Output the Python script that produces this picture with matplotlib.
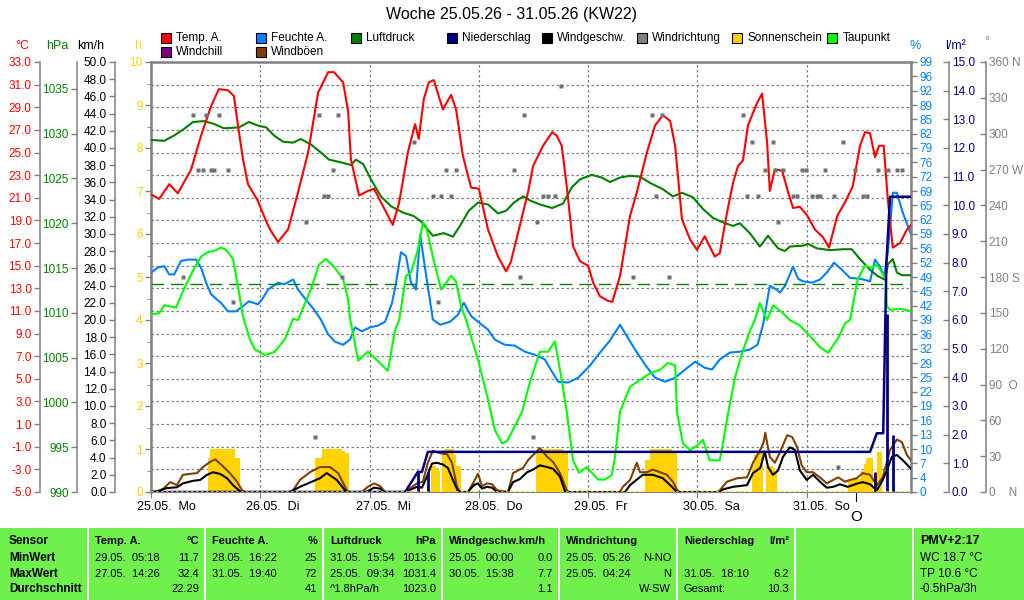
import numpy as np
import matplotlib
matplotlib.use('Agg')
import matplotlib.pyplot as plt
from matplotlib.patches import Rectangle
from matplotlib.ticker import MultipleLocator

plt.rcParams['font.family'] = ['Liberation Sans', 'DejaVu Sans']

# ---------------- data (hours since 25.05. 00:00) ----------------
day_labels = ['25.05.  Mo', '26.05.  Di', '27.05.  Mi', '28.05.  Do', '29.05.  Fr', '30.05.  Sa', '31.05.  So']
day_hours = [0, 24, 48, 72, 96, 120, 144]
x_end = 166.9
moon_hour = 154.8

temp_t = [0.0, 1.8, 4.0, 5.9, 8.8, 11.0, 13.2, 14.9, 16.9, 18.2, 19.1, 20.2, 21.3, 23.5, 25.3, 26.3, 27.9,
          30.1, 32.3, 34.5, 36.7, 38.9, 40.2, 42.2, 43.3, 43.9, 45.7, 47.6, 49.0, 50.5, 53.1, 54.5, 56.4,
          58.0, 58.8, 59.9, 61.0, 62.1, 64.1, 65.9, 67.0, 68.5, 70.3, 72.0, 74.0, 76.2, 78.0, 79.0, 80.6,
          82.8, 83.9, 86.1, 88.1, 89.1, 90.2, 91.3, 92.7, 94.2, 96.0, 97.1, 98.6, 100.3, 101.3, 103.0, 105.2,
          106.7, 108.9, 110.7, 112.4, 114.0, 115.1, 116.6, 118.4, 119.9, 121.6, 123.8, 124.9, 126.5, 127.8,
          128.9, 130.0, 131.1, 133.1, 134.2, 135.3, 135.9, 137.0, 138.6, 139.9, 141.0, 142.5, 144.0, 145.8,
          147.6, 148.9, 150.7, 152.4, 154.1, 155.7, 156.8, 157.9, 159.0, 159.9, 160.9, 161.8, 162.9, 164.5,
          166.0, 166.9]
temp_v = [21.3, 20.9, 22.2, 21.4, 23.5, 26.5, 29.1, 30.6, 30.5, 30.0, 27.4, 24.4, 22.2, 20.7, 18.9, 18.1, 17.1,
          18.2, 21.5, 25.0, 30.3, 32.1, 32.1, 31.2, 28.6, 24.4, 21.2, 21.6, 21.8, 20.6, 18.6, 20.6, 25.0,
          27.5, 26.2, 29.7, 31.2, 31.4, 28.8, 30.1, 28.8, 24.7, 21.9, 21.8, 18.2, 15.8, 14.5, 15.3, 17.9,
          21.5, 23.8, 25.6, 26.8, 26.5, 25.6, 22.0, 16.7, 15.4, 15.0, 13.5, 12.3, 11.9, 11.8, 14.1, 19.4,
          21.5, 25.0, 27.4, 28.3, 27.8, 25.6, 19.1, 17.3, 16.4, 17.6, 15.8, 16.1, 19.7, 22.3,
          23.8, 24.3, 27.4, 29.4, 30.2, 25.9, 21.6, 23.5, 23.4, 21.5, 20.1, 20.2, 19.5, 18.2,
          17.5, 16.6, 19.4, 20.6, 22.0, 25.6, 26.8, 26.7, 24.6, 25.6, 25.6, 20.9, 16.6, 17.0,
          18.2, 18.6]

dew_t = [0.0, 1.8, 2.9, 5.5, 7.2, 9.4, 11.0, 12.5, 13.8, 15.4, 16.5, 18.0, 19.1, 20.2, 21.7, 22.8, 25.0, 27.2,
         29.4, 31.2, 32.3, 35.1, 36.9, 38.4, 40.0, 42.2, 43.3, 43.7, 45.5, 47.6, 49.8, 52.0, 53.6, 54.5, 56.0,
         57.1, 58.6, 59.7, 60.4, 61.9, 63.7, 64.3, 65.9, 67.0, 68.1, 69.2, 71.8, 74.0, 75.5, 77.1, 78.2, 80.4,
         81.5, 83.2, 85.4, 87.2, 88.7, 90.2, 91.3, 92.7, 94.0, 95.7, 96.8, 98.2, 99.7, 101.2, 101.9, 103.0,
         105.2, 107.4, 109.6, 111.8, 113.5, 115.1, 115.5, 116.8, 118.4, 119.9, 121.2, 122.7, 124.9, 125.6,
         126.8, 128.3, 129.9, 131.5, 132.6, 133.7, 135.3, 136.6, 138.8, 140.3, 142.5, 144.7, 146.9, 148.7,
         150.9, 152.4, 153.5, 155.2, 156.8, 158.3, 159.4, 160.5, 161.4, 161.6, 162.3, 164.5, 166.9]
dew_v = [10.7, 10.8, 11.5, 11.3, 12.9, 14.7, 15.8, 16.2, 16.3, 16.6, 16.4, 15.6, 13.2, 10.5, 8.5, 7.6, 7.1, 7.4,
         8.5, 10.3, 10.2, 12.9, 15.1, 15.6, 15.0, 13.8, 12.0, 10.4, 6.6, 7.4, 6.6, 5.7, 9.3, 10.2, 14.1,
         14.4, 16.4, 18.8, 18.5, 15.8, 12.9, 13.2, 14.1, 13.6, 11.4, 10.2, 6.7, 3.2, 0.5, -0.7, -0.5, 1.2,
         2.1, 4.7, 7.4, 7.4, 8.3, 4.9, 2.1, -2.2, -3.3, -2.8, -3.3, -3.9, -3.9, -3.5, -1.9, 2.1,
         4.3, 4.9, 5.5, 5.8, 6.4, 6.2, 2.1, -0.7, -1.3, -0.9, -0.4, -2.2, -2.2, -0.7,
         2.1, 5.2, 7.4, 9.2, 10.2, 11.7, 10.2, 11.5, 10.8, 10.2, 9.7, 8.8, 7.8, 7.3,
         8.6, 9.9, 10.2, 13.8, 15.0, 14.8, 15.1, 14.4, 13.8, 11.4, 11.1, 11.2, 11.0]

hum_t = [0.0, 1.5, 2.9, 4.0, 5.1, 6.6, 8.1, 9.9, 11.0, 12.1, 13.2, 15.4, 16.9, 18.7, 20.2, 21.5, 23.5, 24.6,
         25.7, 27.9, 29.2, 31.2, 32.3, 34.0, 35.8, 37.3, 38.9, 40.4, 42.2, 43.7, 44.8, 46.3, 48.1, 49.8, 51.4,
         52.9, 53.8, 54.9, 56.0, 57.1, 58.2, 59.1, 59.9, 61.0, 61.9, 63.5, 65.7, 67.4, 68.7, 70.3, 71.8, 74.0,
         75.5, 77.7, 79.9, 82.1, 84.3, 86.5, 87.6, 89.4, 91.6, 93.8, 96.4, 98.6, 100.8, 103.0, 104.7, 106.3,
         108.5, 110.7, 112.9, 115.1, 117.3, 119.5, 121.6, 123.2, 124.9, 127.1, 129.3, 131.5, 133.2, 134.4,
         135.9, 137.4, 138.1, 139.2, 141.0, 142.1, 143.2, 145.2, 146.9, 148.4, 150.0, 151.7, 153.5, 155.7,
         157.9, 159.0, 160.1, 161.0, 161.8, 162.5, 162.9, 163.8, 165.1, 166.9]
hum_v = [50.5, 51.7, 52.0, 50.1, 50.1, 53.2, 53.5, 53.5, 51.6, 48.2, 45.5, 43.5, 41.6, 41.6, 42.8, 43.9, 43.2, 44.7,
         46.6, 48.2, 47.8, 48.9, 46.6, 44.3, 42.0, 39.7, 36.3, 34.6, 33.9, 35.1, 37.9, 37.0, 37.9, 38.3, 39.2,
         43.4, 48.0, 55.2, 54.3, 48.2, 46.6, 59.3, 53.5, 45.9, 39.7, 38.5, 39.2, 40.8, 43.6, 40.5, 39.2, 37.4,
         35.1, 33.9, 33.7, 32.3, 31.6, 30.5, 28.5, 25.4, 25.2, 26.3, 29.1, 32.1, 34.9, 38.5, 35.5, 32.8,
         29.3, 26.3, 25.4, 26.3, 28.2, 30.0, 28.6, 28.2, 30.5, 32.1, 32.3, 32.8, 33.9, 38.5,
         47.5, 46.6, 45.9, 47.4, 51.9, 49.1, 48.5, 48.2, 48.9, 50.5, 52.8, 51.2, 49.3, 49.1,
         48.5, 53.5, 51.9, 49.7, 55.1, 63.5, 68.9, 68.9, 64.3, 59.3]

pres_t = [0.0, 2.9, 5.1, 7.2, 9.2, 11.6, 13.8, 16.0, 19.3, 21.5, 23.5, 25.3, 27.0, 29.0, 31.2, 32.9, 35.1, 37.3,
          39.1, 41.7, 43.9, 45.0, 46.6, 48.3, 50.5, 52.7, 55.3, 57.7, 59.3, 61.9, 64.3, 66.3, 67.6, 69.8, 71.8,
          74.0, 76.2, 78.0, 79.7, 81.7, 83.4, 85.4, 88.1, 90.5, 92.4, 94.2, 96.8, 99.0, 100.8, 103.0, 105.2,
          107.4, 109.6, 112.4, 114.6, 116.6, 119.0, 121.2, 123.4, 125.6, 127.8, 129.3, 131.5, 133.7, 135.5,
          137.7, 139.2, 140.3, 143.2, 144.3, 146.2, 149.1, 152.0, 153.9, 155.7, 157.9, 159.6, 161.2, 161.8,
          162.9, 163.8, 164.9, 166.9]
pres_v = [1029.3, 1029.2, 1029.8, 1030.5, 1031.3, 1031.4, 1031.1, 1030.6, 1030.7, 1031.3, 1030.9, 1030.7, 1029.8,
          1029.1, 1029.0, 1029.4, 1028.8, 1027.9, 1027.1, 1026.8, 1026.5, 1027.1, 1026.6, 1024.9, 1023.0, 1021.9,
          1021.2, 1020.8, 1020.2, 1018.6, 1018.9, 1018.5, 1019.5, 1021.4, 1022.3, 1022.1, 1021.1, 1021.4, 1022.3,
          1023.0, 1022.5, 1022.1, 1021.7, 1022.2, 1024.0, 1024.9, 1025.4, 1025.1, 1024.6, 1025.1, 1025.3, 1025.2,
          1024.5, 1023.8, 1023.0, 1023.4, 1022.9, 1021.6, 1020.6, 1020.1, 1019.7, 1020.0, 1018.9, 1017.4, 1018.6,
          1017.2, 1016.9, 1017.4, 1017.5, 1017.7, 1017.2, 1017.0, 1017.1, 1017.1, 1016.0, 1014.8, 1014.1, 1013.7,
          1015.4, 1016.0, 1014.5, 1014.2, 1014.2]
pres_ref = 1013.25

wind_t = [0.0, 1.5, 2.4, 3.5, 5.7, 7.0, 9.2, 10.8, 12.3, 13.6, 15.2, 16.7, 18.0, 19.5, 20.2, 30.5, 32.7, 34.9,
          37.1, 38.6, 40.8, 42.6, 43.0, 47.2, 49.0, 50.3, 51.2, 55.8, 58.4, 59.5, 60.6, 61.7, 62.8, 64.1, 65.2,
          66.3, 67.4, 67.9, 69.6, 70.9, 71.8, 72.7, 73.8, 74.9, 76.0, 78.4, 79.5, 81.0, 82.6, 83.9, 85.4, 87.0,
          88.3, 89.8, 90.9, 91.3, 104.1, 105.2, 108.0, 110.2, 112.4, 114.4, 115.5, 124.9, 125.6, 127.8, 130.9,
          132.2, 133.8, 134.8, 135.5, 136.6, 137.7, 138.8, 140.3, 141.4, 142.5, 144.0, 145.4, 146.9, 148.4,
          149.8, 151.3, 153.0, 154.1, 155.2, 156.3, 157.9, 159.4, 160.7, 161.6, 162.7, 163.8, 165.1, 166.9]
wind_v = [0.0, 0.0, 0.3, 0.45, 0.55, 1.0, 1.3, 1.4, 2.0, 2.3, 2.1, 1.6, 0.8, 0.1, 0.0, 0.0, 0.6, 1.1,
          1.6, 2.2, 1.4, 0.2, 0.0, 0.0, 0.5, 0.4, 0.0, 0.0, 0.6, 0.5, 1.8, 3.3, 3.4, 3.2, 2.8,
          1.4, 0.1, 0.0, 0.0, 0.8, 1.0, 0.4, 0.6, 0.5, 0.0, 0.0, 1.15, 1.5, 2.3, 2.6, 3.1, 2.9,
          2.7, 1.8, 0.1, 0.0, 0.0, 0.8, 2.0, 2.0, 1.6, 0.6, 0.0, 0.0, 0.3, 0.6, 0.8,
          2.2, 2.8, 4.7, 2.9, 2.0, 2.5, 4.1, 5.2, 4.9, 2.5, 1.4, 2.0, 1.2, 0.5,
          0.6, 0.9, 0.6, 0.8, 1.0, 1.15, 0.9, 0.2, 1.4, 2.5, 4.1, 4.3, 3.7, 2.7]

gust_t = [0.0, 2.0, 2.6, 4.2, 5.7, 7.0, 10.1, 11.4, 13.0, 14.1, 15.6, 17.3, 18.9, 20.0, 20.6, 30.5, 31.2, 32.7,
          34.9, 37.1, 39.3, 41.1, 43.0, 43.5, 46.3, 47.6, 49.0, 50.3, 51.4, 55.8, 58.4, 59.7, 60.8, 61.9, 63.5,
          65.0, 66.1, 67.2, 67.9, 69.6, 70.7, 71.8, 72.7, 73.8, 74.9, 76.0, 78.4, 79.5, 81.7, 82.8, 85.4, 87.0,
          88.3, 89.8, 91.3, 91.8, 103.0, 103.6, 105.2, 106.7, 107.4, 108.9, 110.2, 111.8, 113.3, 114.6, 115.7,
          116.2, 124.5, 124.9, 126.5, 128.7, 130.9, 132.2, 133.8, 134.5, 134.9, 135.3, 135.9, 137.0, 138.1,
          139.7, 140.8, 141.9, 142.9, 144.0, 145.4, 146.9, 148.4, 149.8, 150.9, 152.4, 153.5, 155.0, 156.3,
          157.9, 159.4, 160.7, 162.3, 163.8, 164.9, 166.0, 166.9]
gust_v = [0.0, 0.2, 0.3, 1.15, 0.8, 2.0, 2.2, 2.9, 3.5, 3.8, 3.1, 2.2, 1.2, 0.2, 0.0, 0.0, 0.2, 1.4,
          2.3, 2.9, 2.9, 2.2, 0.2, 0.0, 0.0, 0.6, 1.0, 0.7, 0.0, 0.0, 1.0, 1.2, 3.4, 4.8, 4.5,
          4.4, 3.4, 0.6, 0.0, 0.0, 1.0, 2.1, 0.7, 1.0, 0.9, 0.2, 0.0, 2.2, 2.8, 3.7, 5.1, 4.1,
          3.5, 2.2, 0.2, 0.0, 0.0, 0.6, 1.4, 3.4, 2.3, 2.3, 2.6, 2.3, 2.0, 1.2, 0.1,
          0.0, 0.0, 0.2, 1.2, 1.6, 1.7, 3.4, 4.9, 5.7, 6.9, 5.7, 4.1, 3.4, 4.6,
          6.6, 6.4, 5.2, 3.1, 2.3, 2.3, 1.7, 1.0, 1.4, 1.7, 1.2, 1.4, 1.6, 2.2,
          2.0, 0.8, 1.7, 4.9, 6.1, 5.8, 4.3, 3.7]

dir_t = [7.0, 9.2, 10.3, 11.4, 12.1, 13.2, 13.8, 14.9, 16.9, 18.0, 34.0, 36.0, 36.9, 38.0, 38.9, 40.0, 41.1, 41.9,
         57.7, 61.9, 63.0, 63.7, 64.8, 65.9, 67.0, 79.7, 81.0, 81.9, 83.9, 84.8, 86.1, 87.2, 88.7, 90.0,
         105.8, 110.0, 110.9, 112.2, 113.7, 130.0, 130.9, 132.0, 133.3, 134.8, 136.6, 137.0, 137.7, 138.8,
         141.0, 141.9, 142.9, 143.8, 145.1, 146.2, 146.9, 148.0, 150.0, 150.9, 152.0, 154.6, 156.3, 157.2,
         159.6, 161.8, 163.8, 164.9]
dir_v = [180, 316, 270, 270, 316, 270, 270, 316, 270, 159, 226, 46, 316, 248, 248, 270, 316, 180,
         293, 248, 159, 248, 270, 248, 270, 270, 180, 316, 46, 226, 248, 248, 248, 340,
         180, 316, 248, 316, 180, 316, 248, 293, 248, 270, 293, 270, 226, 270,
         248, 248, 270, 270, 248, 248, 248, 270, 248, 21, 293, 270, 248, 248,
         270, 270, 270, 270]

sun_start = [12.5, 36.0, 61.5, 84.5, 108.5, 132.0, 153.0]
sun_vals = [
    [0.8, 1.0, 1.0, 1.0, 1.0, 1.0, 1.0, 1.0, 1.0, 1.0, 1.0, 1.0, 0.8, 0.8],
    [0.8, 0.8, 0.8, 1.0, 1.0, 1.0, 1.0, 1.0, 1.0, 1.0, 1.0, 1.0, 0.95, 0.9, 0.9],
    [0.6, 0.6, 0.55, 0.5, 0.0, 0.95, 1.0, 1.0, 1.0, 1.0, 0.85, 0.6, 0.6],
    [0.9, 0.9, 1.0, 1.0, 1.0, 1.0, 1.0, 1.0, 1.0, 1.0, 1.0, 1.0, 0.95, 0.95],
    [0.75, 0.75, 1.0, 1.0, 1.0, 1.0, 1.0, 1.0, 1.0, 1.0, 1.0, 1.0, 0.93, 0.93],
    [0.6, 0.85, 0.95, 1.0, 0.9, 0.0, 0.6, 0.6, 0.6, 0.55, 0.5],
    [0.25, 0.3, 0.3, 0.35, 0.3, 0.3, 0.5, 0.65, 0.8, 0.8, 0.8, 0.0, 0.0, 0.93, 0.93],
]
sun_bin = 0.5

rain_bar_t = [58.6, 60.8, 159.0, 161.6, 162.9]
rain_bar_v = [0.7, 0.7, 0.7, 6.2, 2.0]
rain_sum_t = [0.0, 55.8, 58.6, 59.5, 60.8, 157.9, 159.4, 160.8, 161.5, 162.3, 166.9]
rain_sum_v = [0.0, 0.0, 0.7, 0.7, 1.4, 1.4, 2.05, 2.05, 8.0, 10.3, 10.3]

rh_tick_labels = ['0', '4', '7', '10', '13', '16', '19', '22', '25', '29', '32', '36', '39', '42', '45', '49',
                  '52', '56', '59', '62', '65', '69', '72', '76', '79', '82', '85', '89', '92', '96', '99']
dir_ticks = list(range(0, 361, 30))
dir_tick_labels = ['0    N', '30', '60', '90  O', '120', '150', '180 S', '210', '240', '270 W', '300', '330', '360 N']

legend_row1 = [('Temp. A.', '#FF0000'), ('Feuchte A.', '#0080FF'), ('Luftdruck', '#008000'),
               ('Niederschlag', '#000080'), ('Windgeschw.', '#000000'), ('Windrichtung', '#808080'),
               ('Sonnenschein', '#FFD200'), ('Taupunkt', '#00FF00')]
legend_row2 = [('Windchill', '#800080'), ('Windböen', '#804000')]

table_cols = [(0, 87), (89, 204), (206, 322), (324, 441), (443, 558), (560, 676), (678, 794), (796, 912), (914, 1024)]
tbl_sensor = ['Sensor', 'MinWert', 'MaxWert', 'Durchschnitt']
tbl_data = [
    [('Temp. A.', '°C'), ('29.05.  05:18', '11.7'), ('27.05.  14:26', '32.4'), ('', '22.29')],
    [('Feuchte A.', '%'), ('28.05.  16:22', '25'), ('31.05.  19:40', '72'), ('', '41')],
    [('Luftdruck', 'hPa'), ('31.05.  15:54', '1013.6'), ('25.05.  09:34', '1031.4'), ('^1.8hPa/h', '1023.0')],
    [('Windgeschw.km/h', ''), ('25.05.  00:00', '0.0'), ('30.05.  15:38', '7.7'), ('', '1.1')],
    [('Windrichtung', ''), ('25.05.  05:26', 'N-NO'), ('25.05.  04:24', 'N'), ('', 'W-SW')],
    [('Niederschlag', 'l/m²'), ('', ''), ('31.05.  18:10', '6.2'), ('Gesamt:', '10.3')],
    [('', ''), ('', ''), ('', ''), ('', '')],
]
tbl_pmv = ['PMV+2:17', 'WC 18.7 °C', 'TP 10.6 °C', '-0.5hPa/3h']

# ---------------- styling ----------------
RED, BLUE, GREEN, NAVY = '#FF0000', '#0080FF', '#008000', '#000080'
LIME, BROWN, SUN, GRAY = '#00FF00', '#804000', '#FFD200', '#808080'
TBL = '#70F04C'

W, H = 1024, 600
L, R, T, B = 151, 911, 62, 492
fig = plt.figure(figsize=(W / 100, H / 100), dpi=100)
fig.patch.set_facecolor('white')
pos = [L / W, 1 - B / H, (R - L) / W, (B - T) / H]


def fx(x):
    return x / W


def fy(y):
    return 1 - y / H


def new_ax(ylim):
    ax = fig.add_axes(pos)
    ax.set_xlim(0, x_end)
    ax.set_ylim(*ylim)
    ax.patch.set_visible(False)
    for s in ax.spines.values():
        s.set_visible(False)
    ax.set_xticks([])
    ax.set_yticks([])
    return ax


def side_axis(ax, side, xpx, ticks, labels, color, direction='out', lw=1.1):
    sp = ax.spines[side]
    sp.set_visible(True)
    sp.set_position(('axes', (xpx - L) / (R - L)))
    sp.set_color(GRAY)
    sp.set_linewidth(lw)
    ax.set_yticks(ticks)
    ax.set_yticklabels(labels)
    if side == 'left':
        ax.yaxis.tick_left()
    else:
        ax.yaxis.tick_right()
    ax.tick_params(axis='y', which='major', direction=direction, color=GRAY, labelcolor=color,
                   length=4, width=1, labelsize=8.5, pad=2)


# base axis: degrees C ticks + grid
ax_c = new_ax((-5, 33))
ax_c.patch.set_visible(True)
ax_c.patch.set_facecolor('white')
ax_c.set_xticks(day_hours)
ax_c.tick_params(axis='x', length=0, labelbottom=False)
cticks = np.arange(-5, 34, 2)
side_axis(ax_c, 'left', 40, cticks, [f'{v:.1f}' for v in cticks], RED)
ax_c.grid(True, color=GRAY, linestyle=(0, (2, 2)), linewidth=0.9)

# sunshine (h)
ax_h = new_ax((0, 10))
for st, vals in zip(sun_start, sun_vals):
    ts = st + sun_bin * np.arange(len(vals))
    ax_h.bar(ts, vals, width=sun_bin, align='edge', color=SUN, linewidth=0)
side_axis(ax_h, 'left', L, list(range(0, 11)), [str(v) for v in range(0, 11)], SUN)
ax_h.spines['left'].set_linewidth(1.8)
ax_h.yaxis.set_minor_locator(MultipleLocator(0.5))
ax_h.tick_params(axis='y', which='minor', length=3, color=GRAY, direction='out')
ax_h.spines['top'].set_visible(True)
ax_h.spines['top'].set_color(GRAY)
ax_h.spines['top'].set_linewidth(1.8)
ax_h.spines['bottom'].set_visible(True)
ax_h.spines['bottom'].set_color(GRAY)
ax_h.spines['bottom'].set_linewidth(0.8)
ax_h.set_xticks(day_hours)
ax_h.set_xticklabels([''] * len(day_hours))
ax_h.tick_params(axis='x', direction='out', length=4, color=GRAY)
for d, lab in zip(day_hours, day_labels):
    ax_h.annotate(lab, xy=(d, 0), xycoords=('data', 'axes fraction'), xytext=(-14, -9),
                  textcoords='offset pixels', ha='left', va='top', fontsize=9)
ax_h.plot([moon_hour, moon_hour], [0, -0.02], color='black', lw=0.8,
          transform=ax_h.get_xaxis_transform(), clip_on=False)
ax_h.annotate('O', xy=(moon_hour, 0), xycoords=('data', 'axes fraction'), xytext=(0, -18),
              textcoords='offset pixels', ha='center', va='top', fontsize=11)

# humidity
ax_rh = new_ax((0, 99))
ax_rh.plot(hum_t, hum_v, color=BLUE, lw=1.5)
side_axis(ax_rh, 'right', R, np.linspace(0, 99, 31), rh_tick_labels, BLUE)
ax_rh.spines['right'].set_linewidth(1.8)

# pressure
ax_p = new_ax((990, 1038))
ax_p.axhline(pres_ref, color=GREEN, lw=1.0, dashes=(9, 5))
ax_p.plot(pres_t, pres_v, color=GREEN, lw=1.5)
pticks = list(range(990, 1036, 5))
side_axis(ax_p, 'left', 77, pticks, [str(v) for v in pticks], GREEN)

# temperature & dew point lines
ax_tl = new_ax((-5, 33))
ax_tl.plot(dew_t, dew_v, color=LIME, lw=1.5)
ax_tl.plot(temp_t, temp_v, color=RED, lw=1.5)

# wind direction
ax_d = new_ax((0, 360))
ax_d.plot(dir_t, dir_v, linestyle='none', marker='s', ms=2.2, color='#707070', mec='none')
side_axis(ax_d, 'right', 986, dir_ticks, dir_tick_labels, GRAY, direction='in')

# wind speed & gusts
ax_w = new_ax((0, 50))
ax_w.plot(gust_t, gust_v, color=BROWN, lw=1.5)
ax_w.plot(wind_t, wind_v, color='black', lw=1.5)
wticks = np.arange(0, 51, 2)
side_axis(ax_w, 'left', 115, wticks, [f'{v:.1f}' for v in wticks], 'black')

# precipitation
ax_r = new_ax((0, 15))
ax_r.vlines(rain_bar_t, 0, rain_bar_v, color=NAVY, lw=2)
ax_r.plot(rain_sum_t, rain_sum_v, color=NAVY, lw=1.8)
ax_r.axhline(0, color=SUN, lw=1.2, dashes=(1.5, 1.5), zorder=5)
rticks = np.arange(0, 16, 1)
side_axis(ax_r, 'right', 949, rticks, [f'{v:.1f}' for v in rticks], NAVY, direction='in')

# unit headers
for txt, x, y, c in [('°C', 22, 46, RED), ('hPa', 57, 46, GREEN), ('km/h', 91, 46, 'black'),
                     ('h', 138, 46, SUN), ('%', 915, 46, BLUE), ('l/m²', 955, 46, NAVY), ('°', 987, 42, GRAY)]:
    fig.text(fx(x), fy(y), txt, color=c, fontsize=9, ha='center', va='center')

# title
fig.text(fx(512), fy(15), 'Woche 25.05.26 - 31.05.26 (KW22)', fontsize=11.5, ha='center', va='center')

# legend
for row, items, top in [(0, legend_row1, 33), (1, legend_row2, 47)]:
    for i, (lab, c) in enumerate(items):
        sx = 161 + i * 95.2
        fig.add_artist(Rectangle((fx(sx), fy(top + 10)), 10 / W, 10 / H, facecolor=c, edgecolor='black',
                                 lw=0.8, transform=fig.transFigure))
        fig.text(fx(sx + 15), fy(top + 5), lab, fontsize=8.5, ha='left', va='center')

# table
for (x0, x1) in table_cols:
    fig.add_artist(Rectangle((fx(x0), fy(600)), (x1 - x0) / W, (600 - 528) / H, facecolor=TBL,
                             edgecolor='none', transform=fig.transFigure))
row_y = [541, 558, 574, 589]
for i, s in enumerate(tbl_sensor):
    fig.text(fx(9), fy(row_y[i]), s, fontsize=8.5, fontweight='bold', ha='left', va='center')
for (x0, x1), col in zip(table_cols[1:8], tbl_data):
    for i, (lt, rt) in enumerate(col):
        wt = 'bold' if i == 0 else 'normal'
        fs = 8
        if lt:
            fig.text(fx(x0 + 6), fy(row_y[i]), lt, fontsize=fs, fontweight=wt, ha='left', va='center')
        if rt:
            fig.text(fx(x1 - 5), fy(row_y[i]), rt, fontsize=fs, fontweight=wt, ha='right', va='center')
for i, s in enumerate(tbl_pmv):
    fig.text(fx(920), fy(row_y[i]), s, fontsize=8.5 if i else 9, fontweight='bold' if i == 0 else 'normal',
             ha='left', va='center')

fig.savefig('out.png', dpi=100, facecolor='white')
